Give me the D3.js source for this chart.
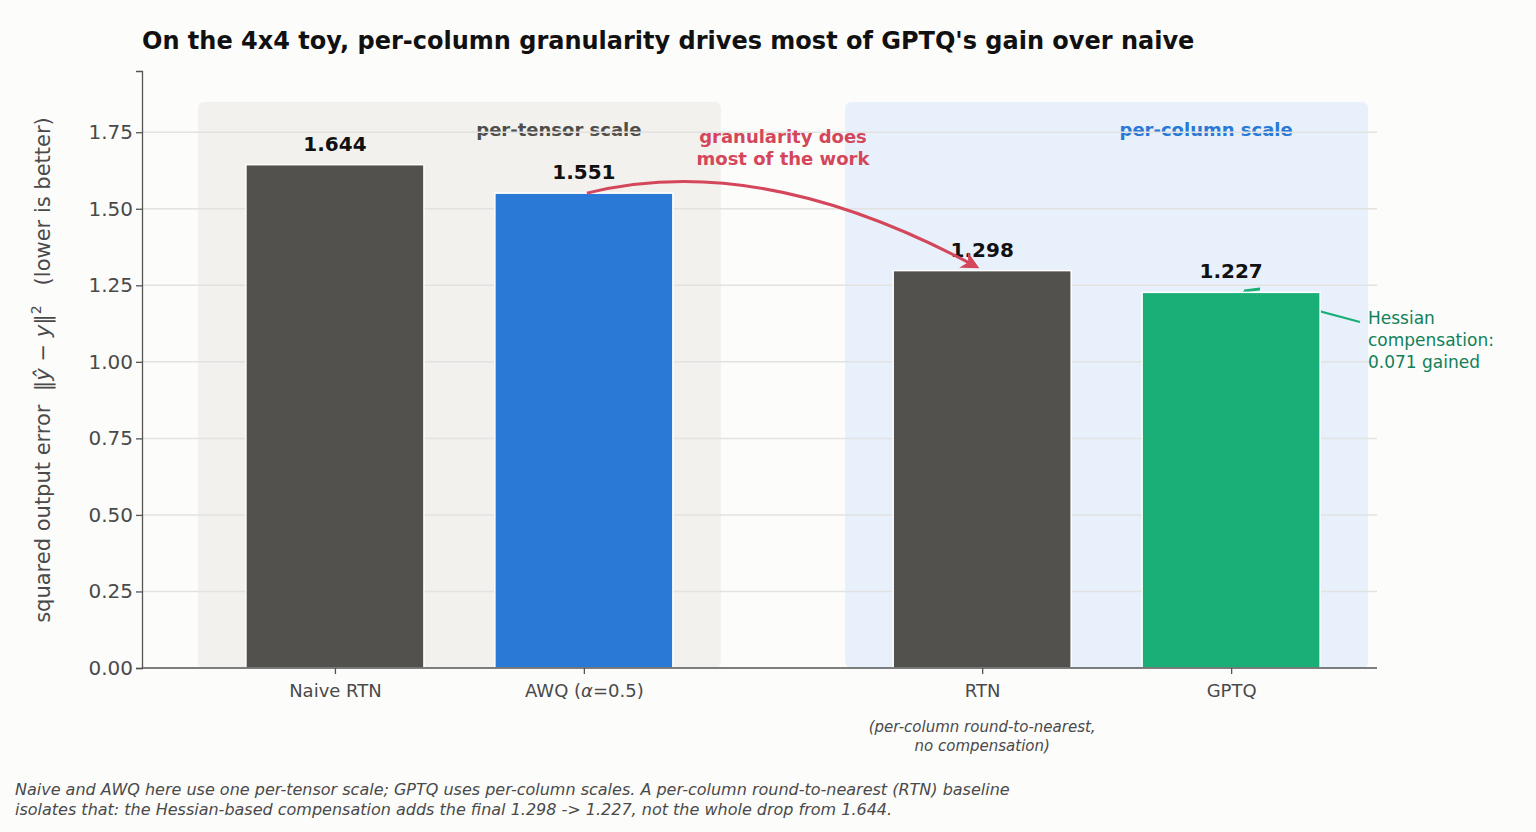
<!DOCTYPE html>
<html><head><meta charset="utf-8">
<script src="https://cdn.jsdelivr.net/npm/d3@7"></script>
<style>body{margin:0;background:#fcfcfb;font-family:"DejaVu Sans",sans-serif}</style>
</head><body>
<svg id="c" width="1536" height="832"></svg>
<script>
const categories = ["Naive RTN", "AWQ (α=0.5)", "RTN", "GPTQ"];
const values = [1.644, 1.551, 1.298, 1.227];
const slots = [0, 1, 2.6, 3.6];
const colors = ["#52514d", "#2a79d6", "#52514d", "#1baf78"];
const yTicks = [0, 0.25, 0.5, 0.75, 1.0, 1.25, 1.5, 1.75];

const svg = d3.select("#c");
svg.append("rect").attr("width", 1536).attr("height", 832).attr("fill", "#fcfcfb");
const x = d3.scaleLinear().domain([-0.775, 4.186]).range([142, 1377]);
const y = d3.scaleLinear().domain([0, 1.95]).range([668, 71]);
const bw = x(0.715) - x(0);

// group backgrounds
const groups = [
  {from: 0, to: 1, fill: "#f2f1ee", label: "per-tensor scale", col: "#4f4e4a"},
  {from: 2.6, to: 3.6, fill: "#e8f0fb", label: "per-column scale", col: "#2a79d6"}
];
groups.forEach(g => {
  const x0 = x(g.from) - bw / 2 - 48, x1 = x(g.to) + bw / 2 + 48;
  svg.append("rect").attr("x", x0).attr("y", 102).attr("width", x1 - x0)
    .attr("height", y(0) - 102).attr("rx", 6).attr("fill", g.fill);
  svg.append("text").attr("x", x1 - 162).attr("y", 136).attr("text-anchor", "middle")
    .attr("font-size", 18).attr("font-weight", "bold").attr("fill", g.col).text(g.label);
});

// grid
svg.append("g").selectAll("line").data(yTicks.slice(1)).join("line")
  .attr("x1", 142).attr("x2", 1377).attr("y1", d => y(d)).attr("y2", d => y(d))
  .attr("stroke", "#e2e2e0").attr("stroke-width", 1.5);

// hessian annotation line (behind bars)
svg.append("defs").html(`
 <marker id="ag" viewBox="0 0 10 10" refX="9" refY="5" markerWidth="7" markerHeight="7" orient="auto-start-reverse"><path d="M0,1L10,5L0,9" fill="none" stroke="#1baf78" stroke-width="1.8"/></marker>
 <marker id="ar" viewBox="0 0 10 10" refX="8" refY="5" markerWidth="6" markerHeight="6" orient="auto"><path d="M0,0L10,5L0,10L3,5Z" fill="#d4475b"/></marker>`);
svg.append("line").attr("x1", 1360).attr("y1", 322).attr("x2", x(3.6) + 14).attr("y2", y(1.227) - 1)
  .attr("stroke", "#1baf78").attr("stroke-width", 2.2).attr("marker-end", "url(#ag)");

// bars
svg.append("g").selectAll("rect").data(values).join("rect")
  .attr("x", (d, i) => x(slots[i]) - bw / 2).attr("width", bw)
  .attr("y", d => y(d)).attr("height", d => y(0) - y(d))
  .attr("fill", (d, i) => colors[i]).attr("stroke", "#fff").attr("stroke-width", 1.5);
svg.append("g").selectAll("text").data(values).join("text")
  .attr("x", (d, i) => x(slots[i])).attr("y", d => y(d) - 14).attr("text-anchor", "middle")
  .attr("font-size", 20).attr("font-weight", "bold").attr("fill", "#111").text(d => d.toFixed(3));

// axes
const ya = svg.append("g").attr("transform", "translate(142,0)")
  .call(d3.axisLeft(y).tickValues(yTicks).tickFormat(d3.format(".2f")).tickSize(6));
ya.selectAll("text").attr("font-size", 20).attr("fill", "#4a4a4a").attr("font-family", "DejaVu Sans");
const xa = svg.append("g").attr("transform", "translate(0,668)")
  .call(d3.axisBottom(x).tickValues(slots).tickFormat((d, i) => categories[i]).tickSize(6));
xa.selectAll("text").attr("font-size", 18).attr("fill", "#4a4a4a").attr("dy", "1.1em").attr("font-family", "DejaVu Sans");
xa.select(".domain").attr("d", "M142,0H1377");
[ya, xa].forEach(a => { a.selectAll("line,path").attr("stroke", "#555").attr("stroke-width", 1.3); });
xa.selectAll(".tick text").filter((d, i) => i === 1).text(null)
  .call(t => { t.append("tspan").text("AWQ ("); t.append("tspan").attr("font-style", "italic").text("α"); t.append("tspan").text("=0.5)"); });

// rtn sub caption
svg.append("text").attr("x", x(2.6)).attr("y", 732).attr("text-anchor", "middle")
  .attr("font-size", 15).attr("font-style", "italic").attr("fill", "#4a4a4a")
  .selectAll("tspan").data(["(per-column round-to-nearest,", "no compensation)"]).join("tspan")
  .attr("x", x(2.6)).attr("dy", (d, i) => i ? 19 : 0).text(d => d);

// y label
svg.append("text").attr("transform", "translate(50,370) rotate(-90)").attr("text-anchor", "middle")
  .attr("font-size", 21).attr("fill", "#4a4a4a")
  .html('squared output error  ‖<tspan font-style="italic">ŷ</tspan> − <tspan font-style="italic">y</tspan>‖<tspan dy="-9" font-size="14">2</tspan><tspan dy="9">   (lower is better)</tspan>')
  .attr("xml:space", "preserve").style("white-space", "pre");

// title
svg.append("text").attr("x", 142).attr("y", 49).attr("font-size", 24).attr("font-weight", "bold")
  .attr("fill", "#111").text("On the 4x4 toy, per-column granularity drives most of GPTQ's gain over naive");

// red curved arrow
svg.append("path").attr("d", `M${x(1) + 3},${y(1.551)} Q760,150 ${x(2.6) - 6},${y(1.298) - 4}`)
  .attr("fill", "none").attr("stroke", "#d4475b").attr("stroke-width", 3).attr("marker-end", "url(#ar)");
svg.append("text").attr("x", 783).attr("y", 143).attr("text-anchor", "middle").attr("font-size", 18)
  .attr("font-weight", "bold").attr("fill", "#d4475b")
  .selectAll("tspan").data(["granularity does", "most of the work"]).join("tspan")
  .attr("x", 783).attr("dy", (d, i) => i ? 22 : 0).text(d => d);

// hessian text
svg.append("text").attr("x", 1368).attr("y", 324).attr("font-size", 17).attr("fill", "#11805a")
  .selectAll("tspan").data(["Hessian", "compensation:", "0.071 gained"]).join("tspan")
  .attr("x", 1368).attr("dy", (d, i) => i ? 22 : 0).text(d => d);

// footer
svg.append("text").attr("x", 15).attr("y", 795).attr("font-size", 16).attr("font-style", "italic").attr("fill", "#4a4a4a")
  .selectAll("tspan").data(["Naive and AWQ here use one per-tensor scale; GPTQ uses per-column scales. A per-column round-to-nearest (RTN) baseline",
    "isolates that: the Hessian-based compensation adds the final 1.298 -> 1.227, not the whole drop from 1.644."]).join("tspan")
  .attr("x", 15).attr("dy", (d, i) => i ? 20 : 0).text(d => d);
</script>
</body></html>
